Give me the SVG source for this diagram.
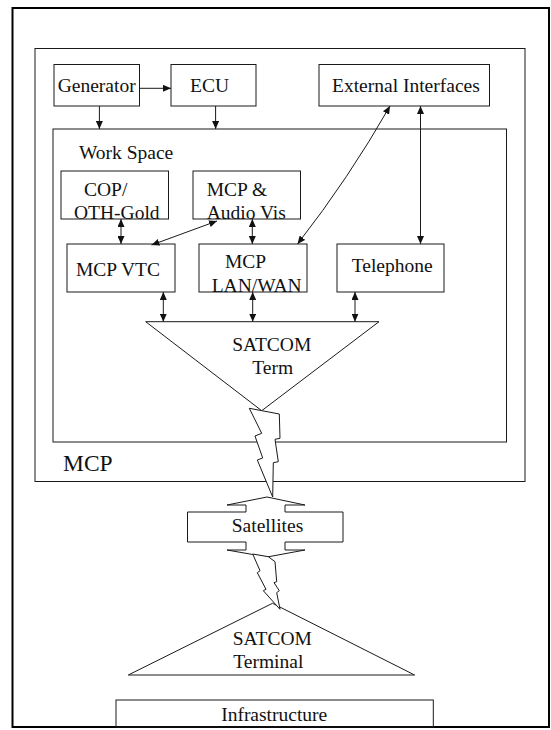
<svg xmlns="http://www.w3.org/2000/svg" width="551" height="730" viewBox="0 0 551 730">
<style>
  .box { fill: none; stroke: #1a1a1a; stroke-width: 1; }
  .frame { fill: none; stroke: #000; stroke-width: 2; }
  .shape { fill: #fff; stroke: #1a1a1a; stroke-width: 1; }
  .t { font-family: "Liberation Serif", "Times New Roman", serif; font-size: 19.5px; fill: #111; }
  .big { font-size: 23.5px; }
  .c { stroke: #1a1a1a; stroke-width: 1; fill: none; }
  .one { marker-end: url(#ah); }
  .two { marker-start: url(#ah); marker-end: url(#ah); }
</style>
<defs>
  <marker id="ah" markerWidth="8" markerHeight="7" refX="8" refY="3.5" orient="auto-start-reverse" markerUnits="userSpaceOnUse">
    <path d="M0,0 L8,3.5 L0,7 z" fill="#111"/>
  </marker>
</defs>
<rect width="551" height="730" fill="#fff"/>

<g id="frame"><rect class="frame" x="12.5" y="8" width="536.5" height="719"/></g>

<g id="mcp">
  <rect class="box" x="35" y="48.5" width="490" height="433"/>
  <text class="t big" x="63" y="471">MCP</text>
</g>

<g id="workspace">
  <rect class="box" x="53" y="129" width="453.5" height="313"/>
  <text class="t" x="79" y="159">Work Space</text>
</g>

<g id="generator">
  <rect class="box" x="54" y="64.5" width="85.5" height="41.5"/>
  <text class="t" x="96.7" y="91.7" text-anchor="middle">Generator</text>
</g>
<g id="ecu">
  <rect class="box" x="171" y="64.5" width="85" height="41.5"/>
  <text class="t" x="190" y="91.7">ECU</text>
</g>
<g id="external">
  <rect class="box" x="319" y="64.5" width="170.5" height="41.5"/>
  <text class="t" x="332" y="91.7">External Interfaces</text>
</g>

<g id="cop">
  <rect class="box" x="61" y="171" width="107.5" height="48"/>
  <text class="t" x="84" y="196">COP/</text>
  <text class="t" x="74" y="219">OTH-Gold</text>
</g>
<g id="audiovis">
  <rect class="box" x="193" y="171" width="107.5" height="48"/>
  <text class="t" x="206.7" y="196">MCP &amp;</text>
  <text class="t" x="206.7" y="219">Audio Vis</text>
</g>
<g id="vtc">
  <rect class="box" x="67" y="244" width="108" height="48"/>
  <text class="t" x="76" y="276">MCP VTC</text>
</g>
<g id="lanwan">
  <rect class="box" x="199" y="244" width="108" height="48"/>
  <text class="t" x="225" y="268">MCP</text>
  <text class="t" x="211.7" y="291.7">LAN/WAN</text>
</g>
<g id="telephone">
  <rect class="box" x="337" y="244" width="107" height="48"/>
  <text class="t" x="351.7" y="272">Telephone</text>
</g>

<g id="satcom-term">
  <polygon class="shape" points="145.7,321.7 379,321.7 261.7,410.7"/>
  <text class="t" x="271.7" y="350.7" text-anchor="middle">SATCOM</text>
  <text class="t" x="272.7" y="374" text-anchor="middle">Term</text>
</g>

<g id="satellites">
  <polygon class="shape" points="267,497 227,505 246,505 246,512 187.5,512 187.5,542 246,542 246,550 227,550 267,557 305,550 285,550 285,542 343,542 343,512 285,512 285,505 305,505"/>
  <text class="t" x="267.5" y="531.7" text-anchor="middle">Satellites</text>
</g>

<g id="satcom-terminal">
  <polygon class="shape" points="128.3,675 414.6,675 272.5,603.3"/>
  <text class="t" x="272.3" y="645" text-anchor="middle">SATCOM</text>
  <text class="t" x="268.3" y="668.3" text-anchor="middle">Terminal</text>
</g>

<g id="infrastructure">
  <rect class="box" x="116" y="700" width="317.3" height="27"/>
  <text class="t" x="274.2" y="721" text-anchor="middle">Infrastructure</text>
</g>

<g id="connectors">
  <line class="c one" x1="139.5" y1="88.3" x2="171" y2="88.3"/>
  <line class="c one" x1="99.4" y1="106" x2="99.4" y2="129"/>
  <line class="c one" x1="215.6" y1="106" x2="215.6" y2="129"/>
  <path class="c two" d="M390,106 Q349,178 297.5,244"/>
  <line class="c two" x1="420.5" y1="106" x2="420.5" y2="244"/>
  <line class="c two" x1="121" y1="219" x2="121" y2="244"/>
  <line class="c two" x1="217" y1="221" x2="151.5" y2="245"/>
  <line class="c two" x1="252.3" y1="219" x2="252.3" y2="244"/>
  <line class="c two" x1="163.3" y1="292" x2="163.3" y2="321.7"/>
  <line class="c two" x1="252.7" y1="292" x2="252.7" y2="321.7"/>
  <line class="c two" x1="355" y1="292" x2="355" y2="321.7"/>
  <polygon id="bolt1" class="shape" points="249.3,408.3 279.3,414 280,438.3 275,439.3 278.3,461.7 273.3,462.7 272.7,497 257.3,460 262.7,458 255,436 261.7,433.3"/>
  <polygon id="bolt2" class="shape" points="252.7,554 268.3,556.7 275,561.7 276.7,581.7 274,582.7 279.3,590.7 276.7,592.7 280,609.3 263.3,590.7 266,589.3 257.3,572.7 260,570.7"/>
</g>
</svg>
